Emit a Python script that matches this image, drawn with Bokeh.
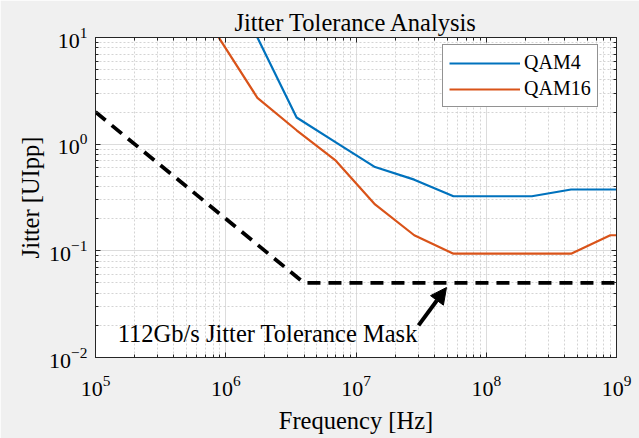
from bokeh.plotting import figure
from bokeh.models import (LinearAxis, FixedTicker, Range1d, Legend, LegendItem,
                          Arrow, NormalHead, Label, CustomJSTickFormatter)
from bokeh.embed import file_html
from bokeh.resources import INLINE

# ---- data ----
freq_qam4 = [1.75e6, 3.5e6, 7e6, 1.4e7, 2.8e7, 5.6e7, 1.12e8, 2.24e8, 4.48e8, 8.96e8, 1e9]
jit_qam4 = [10.0, 1.78, 1.04, 0.61, 0.465, 0.325, 0.325, 0.325, 0.376, 0.376, 0.376]

freq_qam16 = [8.75e5, 1.75e6, 3.5e6, 7e6, 1.4e7, 2.8e7, 5.6e7, 1.12e8, 2.24e8, 4.48e8, 8.96e8, 1e9]
jit_qam16 = [10.2, 2.72, 1.35, 0.70, 0.272, 0.140, 0.094, 0.094, 0.094, 0.094, 0.140, 0.140]

freq_mask = [1e5, 4e6, 1e9]
jit_mask = [2.0, 0.05, 0.05]

x_major = [1e5, 1e6, 1e7, 1e8, 1e9]
y_major = [1e-2, 1e-1, 1e0, 1e1]

title_text = "Jitter Tolerance Analysis"
x_label = "Frequency [Hz]"
y_label = "Jitter [UIpp]"
mask_label = "112Gb/s Jitter Tolerance Mask"
series_names = ["QAM4", "QAM16"]

FONT = "Liberation Serif"
TXT = "#262626"

def minors(majors):
    out = []
    for m in majors[:-1]:
        out += [m * k for k in range(2, 10)]
    return out

x_ticker = FixedTicker(ticks=x_major, minor_ticks=minors(x_major))
y_ticker = FixedTicker(ticks=y_major, minor_ticks=minors(y_major))

p = figure(width=639, height=438, x_axis_type="log", y_axis_type="log",
           x_range=Range1d(1e5, 1e9), y_range=Range1d(1e-2, 1e1),
           output_backend="svg", toolbar_location=None,
           min_border_left=95, min_border_right=23, min_border_top=37,
           min_border_bottom=81,
           background_fill_color="white", border_fill_color="#f0f0f0")

p.title.text = title_text
p.title.text_font = FONT
p.title.text_font_size = "24.5px"
p.title.text_font_style = "normal"
p.title.text_color = "#000000"
p.title.align = "center"
p.title.standoff = 3
p.title.offset = 0

p.outline_line_color = TXT
p.outline_line_width = 1

def style_axis(ax, labels=True):
    ax.axis_line_color = TXT
    ax.major_tick_line_color = TXT
    ax.minor_tick_line_color = TXT
    ax.major_tick_in = 5
    ax.major_tick_out = 0
    ax.minor_tick_in = 3
    ax.minor_tick_out = 0
    ax.major_label_text_font = FONT
    ax.major_label_text_color = "#000000"
    ax.axis_label_text_font = FONT
    ax.axis_label_text_font_style = "normal"
    ax.axis_label_text_color = "#000000"
    ax.axis_label_text_font_size = "24.5px"
    if labels:
        ax.major_label_text_font_size = "22px"
    else:
        ax.formatter = CustomJSTickFormatter(code="return ''")
        ax.major_label_text_font_size = "1px"
        ax.major_label_standoff = 0

xa = p.xaxis[0]
ya = p.yaxis[0]
xa.ticker = x_ticker
ya.ticker = y_ticker
style_axis(xa)
style_axis(ya)
xa.axis_label = x_label
ya.axis_label = y_label
xa.major_label_standoff = 18
xa.axis_label_standoff = 8
ya.major_label_standoff = 8
ya.axis_label_standoff = 2

top = LinearAxis(ticker=x_ticker)
right = LinearAxis(ticker=y_ticker)
style_axis(top, labels=False)
style_axis(right, labels=False)
p.add_layout(top, "above")
p.add_layout(right, "right")

for g in (p.xgrid[0], p.ygrid[0]):
    g.grid_line_color = "#dcdcdc"
    g.grid_line_width = 1
    g.minor_grid_line_color = "#d4d4d4"
    g.minor_grid_line_dash = "2 2"
    g.minor_grid_line_width = 1
p.xgrid[0].ticker = x_ticker
p.ygrid[0].ticker = y_ticker

r4 = p.line(freq_qam4, jit_qam4, line_color="#0072BD", line_width=2.2)
r16 = p.line(freq_qam16, jit_qam16, line_color="#D95319", line_width=2.2)
p.line(freq_mask, jit_mask, line_color="black", line_width=3.8, line_dash="13 8")

legend = Legend(items=[LegendItem(label=series_names[0], renderers=[r4]),
                       LegendItem(label=series_names[1], renderers=[r16])],
                location=(347, 250), label_text_font=FONT,
                label_text_font_size="20px", label_text_color="#000000",
                glyph_width=71, glyph_height=20, label_height=20,
                label_standoff=4, spacing=3, padding=6, margin=0,
                border_line_color=TXT, border_line_width=1,
                background_fill_color="white", background_fill_alpha=1)
p.add_layout(legend)

p.add_layout(Arrow(end=NormalHead(size=16, fill_color="black", line_color="black"),
                   x_start=3.02e7, y_start=0.0200, x_end=4.95e7, y_end=0.0453,
                   line_color="black", line_width=4))

p.add_layout(Label(x=1.48e5, y=0.0168, text=mask_label, text_baseline="middle",
                   text_font=FONT, text_font_size="24.5px", text_color="#000000"))

open("out.html", "w").write(file_html(p, INLINE))
